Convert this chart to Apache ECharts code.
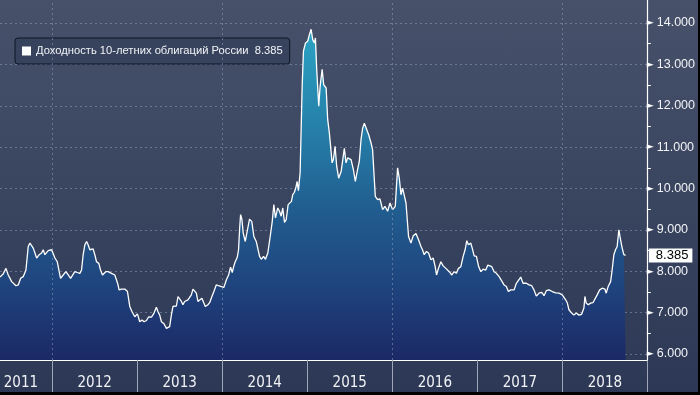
<!DOCTYPE html>
<html><head><meta charset="utf-8">
<script src="https://cdn.jsdelivr.net/npm/echarts@6/dist/echarts.min.js"></script>
<style>
html,body{margin:0;padding:0;background:#000;overflow:hidden;}
#c{width:698px;height:392px;background:linear-gradient(#47516a,#2c3855);}
</style>
</head><body><div id="c"></div><script>
const seriesName = 'Доходность 10-летних облигаций России';
const dates = [
2011.387,2011.426,2011.457,2011.484,2011.524,2011.575,2011.602,2011.630,2011.660,2011.692,
2011.719,2011.739,2011.759,2011.778,2011.798,2011.818,2011.848,2011.876,2011.895,2011.915,
2011.935,2011.954,2011.994,2012.013,2012.033,2012.060,2012.083,2012.099,2012.130,2012.162,
2012.189,2012.217,2012.240,2012.267,2012.294,2012.326,2012.346,2012.365,2012.385,2012.405,
2012.423,2012.443,2012.463,2012.482,2012.502,2012.522,2012.549,2012.569,2012.592,2012.631,
2012.658,2012.698,2012.737,2012.757,2012.775,2012.787,2012.815,2012.854,2012.886,2012.913,
2012.940,2012.972,2013.003,2013.030,2013.057,2013.081,2013.109,2013.136,2013.168,2013.198,
2013.226,2013.245,2013.265,2013.285,2013.315,2013.344,2013.362,2013.382,2013.402,2013.421,
2013.441,2013.461,2013.480,2013.500,2013.520,2013.538,2013.558,2013.597,2013.617,2013.637,
2013.656,2013.676,2013.696,2013.714,2013.734,2013.761,2013.781,2013.801,2013.832,2013.852,
2013.879,2013.902,2013.930,2013.957,2013.989,2014.020,2014.048,2014.075,2014.098,2014.118,
2014.137,2014.153,2014.177,2014.192,2014.204,2014.216,2014.231,2014.247,2014.271,2014.294,
2014.321,2014.348,2014.372,2014.400,2014.439,2014.459,2014.486,2014.509,2014.536,2014.564,
2014.588,2014.607,2014.626,2014.653,2014.673,2014.693,2014.712,2014.732,2014.752,2014.775,
2014.791,2014.814,2014.829,2014.849,2014.869,2014.881,2014.896,2014.916,2014.940,2014.955,
2014.979,2015.005,2015.025,2015.045,2015.064,2015.084,2015.096,2015.111,2015.135,2015.151,
2015.175,2015.193,2015.222,2015.240,2015.260,2015.292,2015.307,2015.327,2015.346,2015.369,
2015.398,2015.416,2015.436,2015.456,2015.475,2015.515,2015.542,2015.565,2015.592,2015.612,
2015.632,2015.651,2015.671,2015.691,2015.722,2015.750,2015.768,2015.800,2015.827,2015.855,
2015.886,2015.914,2015.945,2015.973,2016.003,2016.035,2016.062,2016.082,2016.102,2016.121,
2016.161,2016.191,2016.219,2016.246,2016.278,2016.308,2016.337,2016.355,2016.375,2016.402,
2016.426,2016.454,2016.481,2016.504,2016.520,2016.543,2016.571,2016.598,2016.630,2016.669,
2016.700,2016.727,2016.754,2016.778,2016.806,2016.833,2016.856,2016.876,2016.895,2016.923,
2016.942,2016.962,2016.989,2017.013,2017.041,2017.068,2017.099,2017.123,2017.146,2017.170,
2017.197,2017.224,2017.256,2017.314,2017.341,2017.365,2017.393,2017.432,2017.459,2017.482,
2017.510,2017.537,2017.576,2017.608,2017.639,2017.666,2017.693,2017.725,2017.757,2017.784,
2017.811,2017.842,2017.881,2017.921,2017.960,2017.999,2018.038,2018.057,2018.077,2018.109,
2018.136,2018.163,2018.195,2018.226,2018.253,2018.265,2018.280,2018.304,2018.332,2018.359,
2018.382,2018.409,2018.438,2018.468,2018.500,2018.515,2018.538,2018.567,2018.585,2018.605,
2018.625,2018.644,2018.664,2018.684,2018.703,2018.723,2018.743
];
const yields = [
7.86,7.94,8.07,7.91,7.75,7.65,7.67,7.83,7.87,8.03,
8.60,8.68,8.64,8.56,8.52,8.32,8.40,8.44,8.52,8.40,
8.36,8.50,8.52,8.48,8.32,8.23,7.99,7.83,7.91,7.99,
7.91,7.83,7.79,7.99,7.97,7.95,8.03,8.40,8.64,8.72,
8.64,8.52,8.48,8.54,8.40,8.23,8.19,8.03,7.91,7.99,
7.99,7.95,7.91,7.79,7.67,7.55,7.57,7.57,7.51,7.15,
7.02,6.90,6.97,6.78,6.82,6.78,6.81,6.90,6.89,6.99,
7.13,7.02,6.94,6.78,6.73,6.62,6.60,6.66,6.94,7.15,
7.19,7.16,7.39,7.43,7.27,7.19,7.27,7.31,7.35,7.43,
7.57,7.57,7.47,7.27,7.29,7.35,7.32,7.15,7.19,7.24,
7.39,7.51,7.67,7.65,7.63,7.61,7.79,7.91,8.10,7.97,
8.13,8.23,8.34,8.52,9.00,9.37,9.26,8.92,8.72,8.76,
9.26,9.20,8.84,8.72,8.36,8.29,8.36,8.29,8.44,8.84,
9.20,9.61,9.29,9.53,9.45,9.33,9.53,9.18,9.24,9.61,
9.65,9.69,9.85,9.91,10.05,10.17,9.95,10.38,12.47,13.32,
13.52,13.56,13.72,13.85,13.60,13.52,13.64,12.88,11.99,12.47,
12.88,12.51,12.43,11.67,11.34,10.62,10.70,11.02,10.54,10.25,
10.41,10.37,10.97,10.62,10.74,10.70,10.46,10.17,10.46,10.66,
11.18,11.46,11.58,11.54,11.30,11.10,10.94,9.81,9.73,9.75,
9.49,9.57,9.45,9.65,9.49,9.57,10.50,10.25,9.85,10.01,
9.65,8.84,8.68,8.86,8.91,8.76,8.60,8.52,8.40,8.48,
8.44,8.28,8.32,8.11,7.91,8.07,8.23,8.13,8.07,7.99,
7.91,7.99,7.95,8.07,8.11,8.36,8.52,8.74,8.64,8.68,
8.54,8.37,8.36,8.13,7.99,8.05,8.03,8.15,8.18,8.11,
7.99,7.95,7.87,7.67,7.63,7.51,7.55,7.55,7.71,7.73,
7.86,7.71,7.71,7.67,7.65,7.55,7.40,7.47,7.49,7.41,
7.53,7.55,7.51,7.48,7.47,7.43,7.31,7.24,7.07,6.99,
6.94,6.99,6.94,6.96,7.11,7.39,7.23,7.19,7.23,7.24,
7.27,7.43,7.55,7.59,7.57,7.47,7.63,7.75,8.03,8.40,
8.52,8.60,9.00,8.76,8.56,8.40,8.385
];
const yearBoundaries = [2012, 2013, 2014, 2015, 2016, 2017, 2018, 2018.993];
const yearLabelPos = [2011.633, 2012.5, 2013.5, 2014.5, 2015.5, 2016.5, 2017.5, 2018.5];
const gridYears = [2012, 2014, 2016, 2018];
const yTicks = [6, 7, 8, 9, 10, 11, 12, 13, 14];
const yMinorTicks = [6.5, 7.5, 8.5, 9.5, 10.5, 11.5, 12.5, 13.5];
const xMin = 2011.387, xMax = 2018.993, yMin = 5.855, yMax = 14.557;

const last = yields[yields.length - 1];
const chart = echarts.init(document.getElementById('c'), null, {renderer: 'canvas'});
const gridStyle = {color: 'rgba(150,165,195,0.5)', type: [2, 3], width: 1};

chart.setOption({
  animation: false,
  backgroundColor: 'transparent',
  grid: {left: 0, right: 50, top: 0, bottom: 32},
  legend: {
    left: 15, top: 38, padding: [6, 7, 6, 7],
    itemWidth: 9, itemHeight: 9, icon: 'rect',
    backgroundColor: '#37435d', borderColor: '#0e1524', borderWidth: 1, borderRadius: 3,
    textStyle: {color: '#f2f4f8', fontSize: 11.2, fontFamily: 'Liberation Sans', lineHeight: 14},
    formatter: n => n + '  ' + last.toFixed(3),
    data: [{name: seriesName, itemStyle: {color: '#ffffff'}}]
  },
  xAxis: [{
    type: 'value', min: xMin, max: xMax, position: 'bottom',
    axisLine: {show: true, lineStyle: {color: '#ffffff', width: 1.2}},
    axisTick: {show: true, customValues: yearBoundaries, length: 32, lineStyle: {color: '#9ea6b8', width: 1}},
    axisLabel: {show: true, customValues: yearLabelPos, margin: 16,
      formatter: v => String(Math.floor(v)),
      color: '#f2f3f6', fontSize: 15, fontFamily: 'Liberation Sans Narrow, DejaVu Sans Condensed, sans-serif'},
    splitLine: {show: false}
  }],
  yAxis: [{
    type: 'value', min: yMin, max: yMax, position: 'right', z: 3,
    axisLine: {show: true, lineStyle: {color: '#ffffff', width: 1.2}},
    axisTick: {show: false, customValues: yTicks},
    axisLabel: {show: true, customValues: yTicks, margin: 0,
      formatter: v => '{t|►}{n|' + Number(v).toFixed(3) + '}',
      rich: {
        t: {fontSize: 9, color: '#ffffff', fontFamily: 'DejaVu Sans', padding: [0, 3, 0, 0]},
        n: {fontSize: 12.5, color: '#f2f3f6', fontFamily: 'Liberation Sans'}
      }},
    splitLine: {show: true, lineStyle: gridStyle}
  }, {
    type: 'value', min: yMin, max: yMax, position: 'right',
    axisLine: {show: false}, axisLabel: {show: false}, splitLine: {show: false},
    axisTick: {show: true, customValues: yMinorTicks, length: 4, lineStyle: {color: '#ffffff', width: 1}}
  }],
  series: [{
    type: 'line', name: seriesName,
    data: dates.map((d, i) => [d, yields[i]]),
    showSymbol: false, symbol: 'none',
    lineStyle: {color: '#ffffff', width: 1.3},
    itemStyle: {color: '#ffffff'},
    areaStyle: {origin: 'start', opacity: 1,
      color: new echarts.graphic.LinearGradient(0, 20, 0, 360, [
        {offset: 0, color: '#2ba6c6'},
        {offset: 0.3, color: '#2682ab'},
        {offset: 0.55, color: '#215e90'},
        {offset: 0.78, color: '#1f447e'},
        {offset: 1, color: '#1b2966'}
      ], true)},
    markLine: {
      silent: true, symbol: 'none', animation: false,
      lineStyle: gridStyle,
      label: {show: false},
      data: gridYears.map(y => ({xAxis: y})).concat([{
        yAxis: last,
        lineStyle: {color: 'rgba(0,0,0,0)', width: 0},
        label: {show: true, position: 'end', distance: 2,
          formatter: () => last.toFixed(3),
          backgroundColor: '#ffffff', color: '#000000', fontSize: 13,
          fontFamily: 'Liberation Sans', padding: [1, 4, 0, 7]}
      }])
    }
  }]
});
</script></body></html>
